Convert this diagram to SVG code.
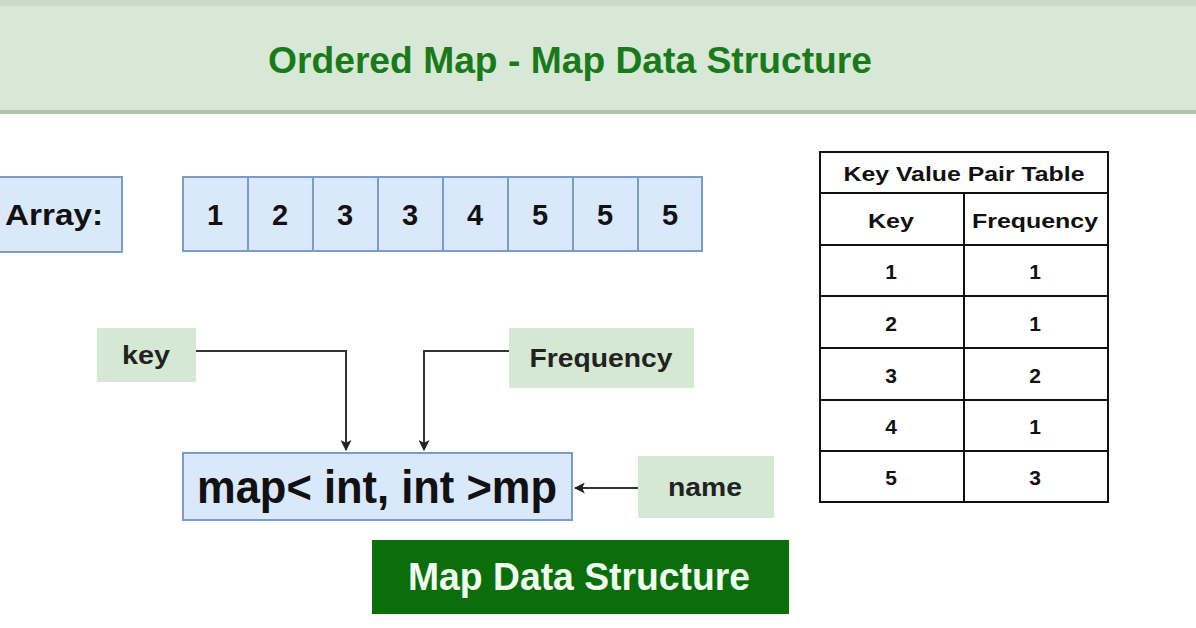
<svg xmlns="http://www.w3.org/2000/svg" width="1196" height="628" viewBox="0 0 1196 628">
<defs>
<marker id="ah" viewBox="0 0 10 10" refX="9" refY="5" markerWidth="11" markerHeight="11" markerUnits="userSpaceOnUse" orient="auto">
<path d="M0,0 L10,5 L0,10 L2.5,5 Z" fill="#222"/>
</marker>
<style>
text{font-family:"Liberation Sans",Arial,sans-serif;font-weight:bold;text-anchor:middle;}
.blue{fill:#dae8fc;stroke:#7a9cc8;stroke-width:2;}
.green{fill:#d5e8d4;stroke:none;}
.conn{fill:none;stroke:#333;stroke-width:2;marker-end:url(#ah);}
.cell{font-size:29px;fill:#111;}
.lbl{font-size:25px;fill:#222;}
.tb{fill:#fff;stroke:#111;stroke-width:2;}
.tt{font-size:21px;fill:#111;}
</style>
</defs>
<rect width="1196" height="628" fill="#ffffff"/>
<g id="header">
<rect x="0" y="0" width="1196" height="6" fill="#c9dcc6"/>
<rect x="0" y="6" width="1196" height="106" fill="#d8e8d6"/>
<rect x="0" y="110" width="1196" height="4" fill="#a9c9a4"/>
<text x="570" y="73" textLength="604" lengthAdjust="spacingAndGlyphs" style="font-size:37px;fill:#1a7a1a;">Ordered Map - Map Data Structure</text>
</g>
<g id="array-label">
<rect class="blue" x="-2" y="177" width="124" height="75"/>
<text x="54" y="225" textLength="98" lengthAdjust="spacingAndGlyphs" style="font-size:30px;fill:#111;">Array:</text>
</g>
<g id="array">
<rect class="blue" x="183" y="177" width="65" height="74"/>
<rect class="blue" x="248" y="177" width="65" height="74"/>
<rect class="blue" x="313" y="177" width="65" height="74"/>
<rect class="blue" x="378" y="177" width="65" height="74"/>
<rect class="blue" x="443" y="177" width="65" height="74"/>
<rect class="blue" x="508" y="177" width="65" height="74"/>
<rect class="blue" x="573" y="177" width="65" height="74"/>
<rect class="blue" x="638" y="177" width="64" height="74"/>
<text class="cell" x="215" y="225">1</text>
<text class="cell" x="280" y="225">2</text>
<text class="cell" x="345" y="225">3</text>
<text class="cell" x="410" y="225">3</text>
<text class="cell" x="475" y="225">4</text>
<text class="cell" x="540" y="225">5</text>
<text class="cell" x="605" y="225">5</text>
<text class="cell" x="670" y="225">5</text>
</g>
<g id="key">
<rect class="green" x="97" y="328" width="99" height="54"/>
<text class="lbl" x="146" y="364" textLength="48" lengthAdjust="spacingAndGlyphs">key</text>
</g>
<g id="frequency">
<rect class="green" x="509" y="328" width="185" height="60"/>
<text class="lbl" x="601" y="367" textLength="143" lengthAdjust="spacingAndGlyphs">Frequency</text>
</g>
<g id="name">
<rect class="green" x="638" y="456" width="136" height="62"/>
<text class="lbl" x="705" y="496" textLength="74" lengthAdjust="spacingAndGlyphs">name</text>
</g>
<g id="map">
<rect class="blue" x="183" y="453" width="389" height="67"/>
<text x="377" y="503" textLength="360" lengthAdjust="spacingAndGlyphs" style="font-size:47px;fill:#111;">map&lt; int, int &gt;mp</text>
</g>
<g id="map-data-structure">
<rect x="372" y="540" width="417" height="74" fill="#0b6e0b"/>
<text x="579" y="590" textLength="342" lengthAdjust="spacingAndGlyphs" style="font-size:38px;fill:#f0fff0;">Map Data Structure</text>
</g>
<g id="connectors">
<path class="conn" d="M196,351 H346 V450"/>
<path class="conn" d="M509,351 H424 V450"/>
<path class="conn" d="M638,488 H575"/>
</g>
<g id="table">
<rect class="tb" x="820" y="152" width="288" height="350"/>
<line x1="820" y1="193" x2="1108" y2="193" stroke="#111" stroke-width="2"/>
<line x1="820" y1="245" x2="1108" y2="245" stroke="#111" stroke-width="2"/>
<line x1="820" y1="296" x2="1108" y2="296" stroke="#111" stroke-width="2"/>
<line x1="820" y1="348" x2="1108" y2="348" stroke="#111" stroke-width="2"/>
<line x1="820" y1="400" x2="1108" y2="400" stroke="#111" stroke-width="2"/>
<line x1="820" y1="451" x2="1108" y2="451" stroke="#111" stroke-width="2"/>
<line x1="964" y1="193" x2="964" y2="502" stroke="#111" stroke-width="2"/>
<text class="tt" x="964" y="181" textLength="241" lengthAdjust="spacingAndGlyphs">Key Value Pair Table</text>
<text class="tt" x="891" y="228" textLength="46" lengthAdjust="spacingAndGlyphs">Key</text>
<text class="tt" x="1035" y="228" textLength="126" lengthAdjust="spacingAndGlyphs">Frequency</text>
<text class="tt" x="891" y="279">1</text><text class="tt" x="1035" y="279">1</text>
<text class="tt" x="891" y="331">2</text><text class="tt" x="1035" y="331">1</text>
<text class="tt" x="891" y="383">3</text><text class="tt" x="1035" y="383">2</text>
<text class="tt" x="891" y="434">4</text><text class="tt" x="1035" y="434">1</text>
<text class="tt" x="891" y="485">5</text><text class="tt" x="1035" y="485">3</text>
</g>
</svg>
